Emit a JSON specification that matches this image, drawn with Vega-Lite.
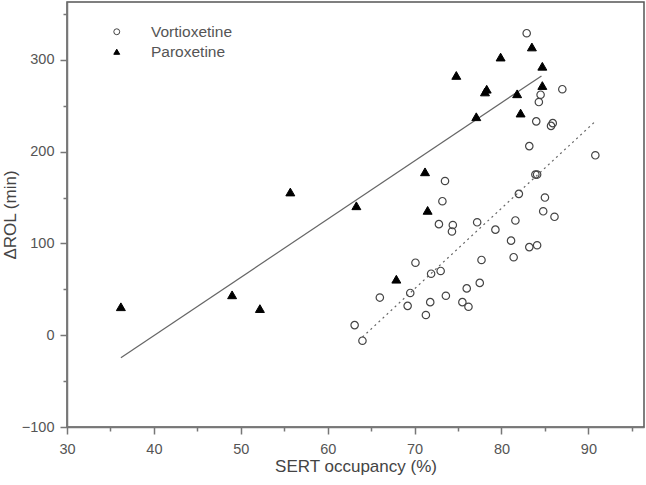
{
  "$schema": "https://vega.github.io/schema/vega-lite/v6.json",
  "autosize": {"type": "none"},
  "width": 577,
  "height": 425,
  "padding": {"left": 67, "top": 2, "right": 2, "bottom": 58},
  "background": "white",
  "config": {
    "font": "Liberation Sans",
    "view": {"stroke": "#555", "strokeWidth": 1.5},
    "axis": {
      "grid": false,
      "labelFont": "Liberation Sans",
      "labelFontSize": 14.5,
      "labelColor": "#555",
      "titleFont": "Liberation Sans",
      "titleFontSize": 17,
      "titleFontWeight": "normal",
      "titleColor": "#444",
      "domainColor": "#777",
      "domainWidth": 1.5,
      "tickColor": "#777",
      "tickWidth": 1.5
    },
    "legend": {
      "padding": 0,
      "labelFont": "Liberation Sans",
      "labelFontSize": 15.5,
      "labelColor": "#555",
      "labelOffset": 26.5,
      "symbolSize": 35,
      "symbolStrokeWidth": 1,
      "rowPadding": 3
    }
  },
  "datasets": {
    "points": [
      {"drug": "Paroxetine", "occ": 36.2, "rol": 31},
      {"drug": "Paroxetine", "occ": 49.0, "rol": 44},
      {"drug": "Paroxetine", "occ": 52.2, "rol": 29},
      {"drug": "Paroxetine", "occ": 55.7, "rol": 156},
      {"drug": "Paroxetine", "occ": 63.3, "rol": 141},
      {"drug": "Paroxetine", "occ": 67.9, "rol": 61},
      {"drug": "Paroxetine", "occ": 71.2, "rol": 178},
      {"drug": "Paroxetine", "occ": 71.5, "rol": 136},
      {"drug": "Paroxetine", "occ": 74.8, "rol": 283},
      {"drug": "Paroxetine", "occ": 77.1, "rol": 238},
      {"drug": "Paroxetine", "occ": 78.1, "rol": 265},
      {"drug": "Paroxetine", "occ": 78.3, "rol": 268},
      {"drug": "Paroxetine", "occ": 79.9, "rol": 303},
      {"drug": "Paroxetine", "occ": 81.8, "rol": 263},
      {"drug": "Paroxetine", "occ": 82.2, "rol": 242},
      {"drug": "Paroxetine", "occ": 83.5, "rol": 314},
      {"drug": "Paroxetine", "occ": 84.7, "rol": 293},
      {"drug": "Paroxetine", "occ": 84.7, "rol": 272},
      {"drug": "Vortioxetine", "occ": 82.9, "rol": 329},
      {"drug": "Vortioxetine", "occ": 87.0, "rol": 268},
      {"drug": "Vortioxetine", "occ": 84.5, "rol": 262},
      {"drug": "Vortioxetine", "occ": 84.3, "rol": 254},
      {"drug": "Vortioxetine", "occ": 84.0, "rol": 233},
      {"drug": "Vortioxetine", "occ": 85.9, "rol": 231},
      {"drug": "Vortioxetine", "occ": 85.7, "rol": 228},
      {"drug": "Vortioxetine", "occ": 83.2, "rol": 206},
      {"drug": "Vortioxetine", "occ": 90.8, "rol": 196},
      {"drug": "Vortioxetine", "occ": 83.9, "rol": 175},
      {"drug": "Vortioxetine", "occ": 84.1, "rol": 175},
      {"drug": "Vortioxetine", "occ": 73.5, "rol": 168},
      {"drug": "Vortioxetine", "occ": 82.0, "rol": 154},
      {"drug": "Vortioxetine", "occ": 85.0, "rol": 150},
      {"drug": "Vortioxetine", "occ": 73.2, "rol": 146},
      {"drug": "Vortioxetine", "occ": 84.8, "rol": 135},
      {"drug": "Vortioxetine", "occ": 86.1, "rol": 129},
      {"drug": "Vortioxetine", "occ": 81.6, "rol": 125},
      {"drug": "Vortioxetine", "occ": 77.2, "rol": 123},
      {"drug": "Vortioxetine", "occ": 72.8, "rol": 121},
      {"drug": "Vortioxetine", "occ": 74.4, "rol": 120},
      {"drug": "Vortioxetine", "occ": 74.3, "rol": 113},
      {"drug": "Vortioxetine", "occ": 79.3, "rol": 115},
      {"drug": "Vortioxetine", "occ": 81.1, "rol": 103},
      {"drug": "Vortioxetine", "occ": 84.1, "rol": 98},
      {"drug": "Vortioxetine", "occ": 83.2, "rol": 96},
      {"drug": "Vortioxetine", "occ": 81.4, "rol": 85},
      {"drug": "Vortioxetine", "occ": 77.7, "rol": 82},
      {"drug": "Vortioxetine", "occ": 70.1, "rol": 79},
      {"drug": "Vortioxetine", "occ": 71.9, "rol": 67},
      {"drug": "Vortioxetine", "occ": 73.0, "rol": 70},
      {"drug": "Vortioxetine", "occ": 66.0, "rol": 41},
      {"drug": "Vortioxetine", "occ": 69.5, "rol": 46},
      {"drug": "Vortioxetine", "occ": 73.6, "rol": 43},
      {"drug": "Vortioxetine", "occ": 77.5, "rol": 57},
      {"drug": "Vortioxetine", "occ": 76.0, "rol": 51},
      {"drug": "Vortioxetine", "occ": 69.2, "rol": 32},
      {"drug": "Vortioxetine", "occ": 71.8, "rol": 36},
      {"drug": "Vortioxetine", "occ": 75.5, "rol": 36},
      {"drug": "Vortioxetine", "occ": 76.2, "rol": 31},
      {"drug": "Vortioxetine", "occ": 71.3, "rol": 22},
      {"drug": "Vortioxetine", "occ": 63.1, "rol": 11},
      {"drug": "Vortioxetine", "occ": 64.0, "rol": -6}
    ],
    "fits": [
      {"drug": "Paroxetine", "occ": 36.2, "rol": -24.5},
      {"drug": "Paroxetine", "occ": 84.6, "rol": 282.5},
      {"drug": "Vortioxetine", "occ": 64.0, "rol": -2},
      {"drug": "Vortioxetine", "occ": 90.8, "rol": 233}
    ]
  },
  "encoding": {
    "x": {
      "field": "occ",
      "type": "quantitative",
      "title": "SERT occupancy (%)",
      "scale": {"domain": [30, 96.4], "nice": false, "zero": false},
      "axis": {
        "values": [30, 35, 40, 45, 50, 55, 60, 65, 70, 75, 80, 85, 90, 95],
        "labelExpr": "datum.value % 10 === 0 ? datum.label : ''",
        "tickSize": {"condition": {"test": "datum.value % 10 === 0", "value": 7}, "value": 4},
        "labelPadding": 8,
        "titlePadding": 3,
        "labelFlush": false
      }
    },
    "y": {
      "field": "rol",
      "type": "quantitative",
      "title": "ΔROL (min)",
      "scale": {"domain": [-100, 363], "nice": false, "zero": false},
      "axis": {
        "values": [-100, -50, 0, 50, 100, 150, 200, 250, 300, 350],
        "labelExpr": "datum.value % 100 === 0 ? datum.label : ''",
        "tickSize": {"condition": {"test": "datum.value % 100 === 0", "value": 7}, "value": 4},
        "labelPadding": 6,
        "titlePadding": 2,
        "labelFlush": false
      }
    }
  },
  "layer": [
    {
      "data": {"name": "fits"},
      "transform": [{"filter": "datum.drug === 'Paroxetine'"}],
      "mark": {"type": "line", "color": "#666", "strokeWidth": 1.2},
      "encoding": {}
    },
    {
      "data": {"name": "fits"},
      "transform": [{"filter": "datum.drug === 'Vortioxetine'"}],
      "mark": {"type": "line", "color": "#666", "strokeWidth": 1.2, "strokeDash": [2, 3.5]},
      "encoding": {}
    },
    {
      "data": {"name": "points"},
      "transform": [{"filter": "datum.drug === 'Vortioxetine'"}],
      "mark": {"type": "point", "filled": false, "strokeWidth": 1.2, "opacity": 1, "size": 55},
      "encoding": {
        "shape": {
          "field": "drug",
          "type": "nominal",
          "scale": {"domain": ["Vortioxetine", "Paroxetine"], "range": ["circle", "triangle-up"]},
          "legend": {"title": null, "orient": "none", "legendX": 42, "legendY": 22}
        },
        "fill": {
          "field": "drug",
          "type": "nominal",
          "scale": {"domain": ["Vortioxetine", "Paroxetine"], "range": ["transparent", "#000"]},
          "legend": {"title": null, "orient": "none", "legendX": 42, "legendY": 22}
        },
        "stroke": {
          "field": "drug",
          "type": "nominal",
          "scale": {"domain": ["Vortioxetine", "Paroxetine"], "range": ["#444", "#000"]},
          "legend": {"title": null, "orient": "none", "legendX": 42, "legendY": 22}
        }
      }
    },
    {
      "data": {"name": "points"},
      "transform": [{"filter": "datum.drug === 'Paroxetine'"}],
      "mark": {"type": "point", "filled": false, "strokeWidth": 1, "opacity": 1, "size": 80},
      "encoding": {
        "shape": {
          "field": "drug",
          "type": "nominal",
          "legend": {"title": null, "orient": "none", "legendX": 42, "legendY": 22}
        },
        "fill": {
          "field": "drug",
          "type": "nominal",
          "legend": {"title": null, "orient": "none", "legendX": 42, "legendY": 22}
        },
        "stroke": {
          "field": "drug",
          "type": "nominal",
          "legend": {"title": null, "orient": "none", "legendX": 42, "legendY": 22}
        }
      }
    }
  ]
}
